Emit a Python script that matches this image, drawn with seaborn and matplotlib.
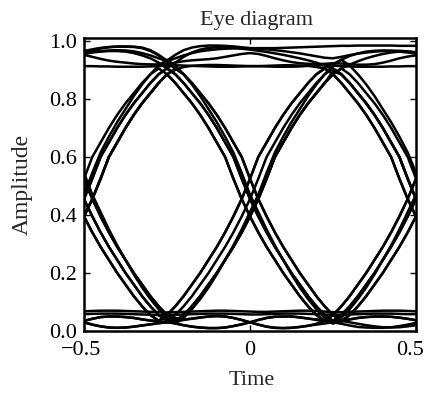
import numpy as np
import pandas as pd
import matplotlib
matplotlib.use("Agg")
import matplotlib.pyplot as plt
import matplotlib.transforms as mtransforms
import seaborn as sns

# ---------------- data ----------------
TIME = [-0.5, -0.475, -0.45, -0.425, -0.4, -0.375, -0.35, -0.325, -0.3, -0.275,
        -0.25, -0.225, -0.2, -0.175, -0.15, -0.125, -0.1, -0.075, -0.05, -0.025,
        0.0, 0.025, 0.05, 0.075, 0.1, 0.125, 0.15, 0.175, 0.2, 0.225,
        0.25, 0.275, 0.3, 0.325, 0.35, 0.375, 0.4, 0.425, 0.45, 0.475, 0.5]

rise_fall_rise = [0.455,0.525,0.60,0.65,0.70,0.745,0.785,0.82,0.855,0.885,
                  0.905,0.885,0.855,0.82,0.785,0.745,0.70,0.65,0.60,0.525,
                  0.455,0.395,0.34,0.29,0.245,0.20,0.16,0.12,0.085,0.055,
                  0.035,0.055,0.085,0.12,0.16,0.20,0.245,0.29,0.34,0.395,
                  0.455]
rise_fall_rise_early = [0.525,0.60,0.65,0.70,0.745,0.785,0.82,0.855,0.885,0.905,
                        0.885,0.855,0.82,0.785,0.745,0.70,0.65,0.60,0.525,0.455,
                        0.395,0.34,0.29,0.245,0.20,0.16,0.12,0.085,0.055,0.035,
                        0.055,0.085,0.12,0.16,0.20,0.245,0.29,0.34,0.395,0.455,
                        0.525]
rise_fall_rise_late = [0.395,0.455,0.525,0.60,0.65,0.70,0.745,0.785,0.82,0.855,
                       0.885,0.905,0.885,0.855,0.82,0.785,0.745,0.70,0.65,0.60,
                       0.525,0.455,0.395,0.34,0.29,0.245,0.20,0.16,0.12,0.085,
                       0.055,0.035,0.055,0.085,0.12,0.16,0.20,0.245,0.29,0.34,
                       0.395]
fall_rise_fall = [0.455,0.395,0.34,0.29,0.245,0.20,0.16,0.12,0.085,0.055,
                  0.035,0.055,0.085,0.12,0.16,0.20,0.245,0.29,0.34,0.395,
                  0.455,0.525,0.60,0.65,0.70,0.745,0.785,0.82,0.855,0.885,
                  0.905,0.885,0.855,0.82,0.785,0.745,0.70,0.65,0.60,0.525,
                  0.455]
fall_rise_fall_early = [0.395,0.34,0.29,0.245,0.20,0.16,0.12,0.085,0.055,0.035,
                        0.055,0.085,0.12,0.16,0.20,0.245,0.29,0.34,0.395,0.455,
                        0.525,0.60,0.65,0.70,0.745,0.785,0.82,0.855,0.885,0.905,
                        0.885,0.855,0.82,0.785,0.745,0.70,0.65,0.60,0.525,0.455,
                        0.395]
fall_rise_fall_late = [0.525,0.455,0.395,0.34,0.29,0.245,0.20,0.16,0.12,0.085,
                       0.055,0.035,0.055,0.085,0.12,0.16,0.20,0.245,0.29,0.34,
                       0.395,0.455,0.525,0.60,0.65,0.70,0.745,0.785,0.82,0.855,
                       0.885,0.905,0.885,0.855,0.82,0.785,0.745,0.70,0.65,0.60,
                       0.525]
rise_high_fall = [0.455,0.525,0.60,0.65,0.70,0.745,0.785,0.82,0.855,0.885,
                  0.905,0.925,0.945,0.96,0.97,0.976,0.978,0.978,0.976,0.973,
                  0.97,0.966,0.962,0.957,0.952,0.946,0.94,0.933,0.925,0.915,
                  0.905,0.885,0.855,0.82,0.785,0.745,0.70,0.65,0.60,0.525,
                  0.455]
rise_high_fall_b = [0.395,0.455,0.525,0.60,0.65,0.70,0.745,0.785,0.82,0.855,
                    0.885,0.90,0.91,0.914,0.916,0.917,0.917,0.916,0.915,0.914,
                    0.913,0.913,0.914,0.915,0.916,0.916,0.915,0.914,0.91,0.905,
                    0.885,0.855,0.82,0.785,0.745,0.70,0.65,0.60,0.525,0.455,
                    0.395]
fall_low_rise = [0.455,0.395,0.34,0.29,0.245,0.20,0.16,0.12,0.085,0.055,
                 0.035,0.026,0.02,0.015,0.012,0.01,0.01,0.012,0.017,0.023,
                 0.03,0.038,0.045,0.049,0.05,0.05,0.047,0.043,0.04,0.037,
                 0.035,0.055,0.085,0.12,0.16,0.20,0.245,0.29,0.34,0.395,
                 0.455]
fall_low_rise_b = [0.525,0.455,0.395,0.34,0.29,0.245,0.20,0.16,0.12,0.085,
                   0.055,0.045,0.04,0.042,0.046,0.05,0.052,0.05,0.045,0.038,
                   0.03,0.022,0.015,0.011,0.01,0.011,0.014,0.018,0.025,0.035,
                   0.055,0.085,0.12,0.16,0.20,0.245,0.29,0.34,0.395,0.455,
                   0.525]
high_fall_low = [0.962,0.968,0.974,0.978,0.98,0.98,0.979,0.975,0.965,0.95,
                 0.925,0.905,0.885,0.855,0.82,0.785,0.745,0.70,0.65,0.60,
                 0.525,0.455,0.395,0.34,0.29,0.245,0.20,0.16,0.12,0.085,
                 0.055,0.035,0.03,0.025,0.02,0.016,0.013,0.012,0.013,0.016,
                 0.02]
low_rise_high = [0.035,0.042,0.048,0.05,0.05,0.048,0.045,0.04,0.036,0.035,
                 0.055,0.085,0.12,0.16,0.20,0.245,0.29,0.34,0.395,0.455,
                 0.525,0.60,0.65,0.70,0.745,0.785,0.82,0.855,0.885,0.905,
                 0.92,0.935,0.948,0.957,0.963,0.966,0.967,0.966,0.963,0.96,
                 0.956]
high_fall_rise = [0.955,0.96,0.963,0.965,0.965,0.963,0.958,0.95,0.94,0.925,
                  0.905,0.885,0.855,0.82,0.785,0.745,0.70,0.65,0.60,0.525,
                  0.455,0.395,0.34,0.29,0.245,0.20,0.16,0.12,0.085,0.055,
                  0.035,0.03,0.055,0.085,0.12,0.16,0.20,0.245,0.29,0.34,
                  0.395]
low_rise_fall = [0.03,0.022,0.016,0.012,0.011,0.012,0.015,0.019,0.023,0.027,
                 0.03,0.035,0.055,0.085,0.12,0.16,0.20,0.245,0.29,0.34,
                 0.395,0.455,0.525,0.60,0.65,0.70,0.745,0.785,0.82,0.855,
                 0.895,0.885,0.855,0.82,0.785,0.745,0.70,0.65,0.60,0.525,
                 0.455]
rise_fall_low = [0.395,0.455,0.525,0.60,0.65,0.70,0.745,0.785,0.82,0.855,
                 0.885,0.855,0.82,0.785,0.745,0.70,0.65,0.60,0.525,0.455,
                 0.395,0.34,0.29,0.245,0.20,0.16,0.12,0.085,0.055,0.035,
                 0.03,0.034,0.04,0.045,0.048,0.05,0.05,0.049,0.046,0.042,
                 0.037]
fall_rise_high = [0.395,0.34,0.29,0.245,0.20,0.16,0.12,0.085,0.055,0.035,
                  0.03,0.033,0.055,0.085,0.12,0.16,0.20,0.245,0.29,0.34,
                  0.395,0.455,0.525,0.60,0.65,0.70,0.745,0.785,0.82,0.855,
                  0.885,0.905,0.918,0.93,0.94,0.948,0.955,0.96,0.963,0.963,
                  0.96]
rise_fall_rise_wide = [0.47,0.545,0.615,0.67,0.72,0.765,0.81,0.85,0.885,0.915,
                       0.935,0.915,0.885,0.85,0.81,0.765,0.72,0.67,0.615,0.545,
                       0.47,0.41,0.35,0.295,0.245,0.195,0.15,0.11,0.075,0.045,
                       0.025,0.045,0.075,0.11,0.15,0.195,0.245,0.295,0.35,0.41,
                       0.47]
fall_rise_fall_wide = [0.545,0.47,0.41,0.35,0.295,0.245,0.195,0.15,0.11,0.075,
                       0.045,0.025,0.045,0.075,0.11,0.15,0.195,0.245,0.295,0.35,
                       0.41,0.47,0.545,0.615,0.67,0.72,0.765,0.81,0.85,0.885,
                       0.915,0.935,0.915,0.885,0.85,0.81,0.765,0.72,0.67,0.615,
                       0.545]
high_flat = [0.913,0.913,0.912,0.912,0.911,0.911,0.911,0.911,0.912,0.913,
             0.915,0.916,0.915,0.914,0.913,0.912,0.911,0.911,0.911,0.912,
             0.913,0.913,0.912,0.911,0.911,0.911,0.912,0.914,0.916,0.916,
             0.915,0.913,0.912,0.911,0.911,0.911,0.911,0.912,0.912,0.913,
             0.913]
high_arch = [0.965,0.971,0.976,0.979,0.981,0.981,0.98,0.977,0.968,0.952,
             0.932,0.952,0.968,0.977,0.982,0.984,0.984,0.983,0.981,0.978,
             0.975,0.973,0.971,0.968,0.965,0.961,0.957,0.952,0.947,0.942,
             0.94,0.945,0.951,0.956,0.96,0.963,0.965,0.966,0.966,0.964,
             0.961]
high_lens = [0.952,0.945,0.938,0.932,0.928,0.925,0.922,0.92,0.919,0.919,
             0.92,0.925,0.93,0.933,0.935,0.937,0.94,0.945,0.95,0.955,
             0.958,0.955,0.948,0.94,0.933,0.927,0.923,0.921,0.92,0.921,
             0.923,0.922,0.92,0.918,0.918,0.92,0.925,0.932,0.94,0.946,
             0.95]
high_top = [0.958,0.962,0.965,0.967,0.968,0.967,0.964,0.958,0.95,0.94,
            0.93,0.94,0.95,0.958,0.964,0.968,0.971,0.973,0.974,0.975,
            0.975,0.975,0.975,0.975,0.976,0.977,0.978,0.979,0.98,0.981,
            0.982,0.983,0.983,0.984,0.984,0.984,0.984,0.984,0.983,0.983,
            0.983]
low_flat = [0.068,0.069,0.07,0.07,0.07,0.069,0.068,0.067,0.066,0.065,
            0.064,0.065,0.066,0.067,0.068,0.069,0.07,0.07,0.069,0.068,
            0.067,0.066,0.066,0.067,0.068,0.069,0.07,0.07,0.069,0.067,
            0.065,0.065,0.066,0.067,0.068,0.069,0.07,0.07,0.07,0.069,
            0.068]
low_flat_b = [0.058,0.059,0.06,0.06,0.06,0.059,0.058,0.057,0.056,0.055,
              0.055,0.056,0.057,0.058,0.059,0.06,0.06,0.06,0.059,0.058,
              0.057,0.057,0.058,0.059,0.06,0.06,0.06,0.059,0.058,0.057,
              0.056,0.056,0.057,0.058,0.059,0.06,0.06,0.06,0.059,0.058,
              0.058]
low_lens_a = [0.035,0.042,0.048,0.05,0.05,0.048,0.045,0.04,0.036,0.032,
              0.03,0.033,0.038,0.043,0.047,0.05,0.051,0.05,0.045,0.038,
              0.03,0.022,0.015,0.011,0.01,0.011,0.014,0.018,0.022,0.026,
              0.03,0.034,0.04,0.045,0.048,0.05,0.05,0.049,0.046,0.042,
              0.037]
low_lens_b = [0.03,0.022,0.016,0.012,0.011,0.012,0.015,0.019,0.023,0.027,
              0.03,0.026,0.02,0.015,0.012,0.01,0.01,0.012,0.017,0.023,
              0.03,0.038,0.045,0.049,0.05,0.05,0.047,0.043,0.038,0.034,
              0.03,0.025,0.019,0.014,0.012,0.011,0.011,0.013,0.017,0.022,
              0.028]

TRACES = {
    "rise_fall_rise": rise_fall_rise,
    "rise_fall_rise_early": rise_fall_rise_early,
    "rise_fall_rise_late": rise_fall_rise_late,
    "fall_rise_fall": fall_rise_fall,
    "fall_rise_fall_early": fall_rise_fall_early,
    "fall_rise_fall_late": fall_rise_fall_late,
    "rise_high_fall": rise_high_fall,
    "rise_high_fall_b": rise_high_fall_b,
    "fall_low_rise": fall_low_rise,
    "fall_low_rise_b": fall_low_rise_b,
    "high_fall_low": high_fall_low,
    "low_rise_high": low_rise_high,
    "high_fall_rise": high_fall_rise,
    "low_rise_fall": low_rise_fall,
    "rise_fall_low": rise_fall_low,
    "fall_rise_high": fall_rise_high,
    "rise_fall_rise_wide": rise_fall_rise_wide,
    "fall_rise_fall_wide": fall_rise_fall_wide,
    "high_flat": high_flat,
    "high_arch": high_arch,
    "high_lens": high_lens,
    "high_top": high_top,
    "low_flat": low_flat,
    "low_flat_b": low_flat_b,
    "low_lens_a": low_lens_a,
    "low_lens_b": low_lens_b,
}

X_TICKS = [-0.5, 0.0, 0.5]
X_TICK_LABELS = ["\u22120.5", "0", "0.5"]
Y_TICKS = [0.0, 0.2, 0.4, 0.6, 0.8, 1.0]
Y_TICK_LABELS = ["0.0", "0.2", "0.4", "0.6", "0.8", "1.0"]

rows = []
for name, vals in TRACES.items():
    for t, a in zip(TIME, vals):
        rows.append((name, t, a))
df = pd.DataFrame(rows, columns=["trace", "time", "amplitude"])

# ---------------- figure ----------------
sns.set_style("ticks")
plt.rcParams["font.family"] = ["Liberation Serif", "DejaVu Serif"]
plt.rcParams["axes.unicode_minus"] = True

W, H = 428, 395
fig = plt.figure(figsize=(W / 100, H / 100), dpi=100)
ax = fig.add_axes([84 / W, 1 - 331 / H, 332 / W, 293 / H])

sns.lineplot(data=df, x="time", y="amplitude", units="trace", estimator=None,
             sort=False, color="black", linewidth=1.8, legend=False, ax=ax)

ax.set_xlim(-0.5, 0.5)
ax.set_ylim(0.0, 1.01)
ax.set_xticks(X_TICKS)
ax.set_xticklabels(X_TICK_LABELS)
ax.set_yticks(Y_TICKS)
ax.set_yticklabels(Y_TICK_LABELS)
ax.tick_params(axis="both", direction="in", length=4, width=1.0,
               colors="black", labelsize=16)
ax.tick_params(axis="y", right=True, pad=5)
ax.tick_params(axis="x", top=True, pad=7)
for sp in ax.spines.values():
    sp.set_visible(True)
    sp.set_linewidth(1.8)
    sp.set_color("black")

# nudge outer x tick labels so they stay inside the canvas like the reference
xlabels = ax.get_xticklabels()
xlabels[-1].set_transform(xlabels[-1].get_transform() +
                          mtransforms.ScaledTranslation(-6 / 100, 0, fig.dpi_scale_trans))
xlabels[0].set_transform(xlabels[0].get_transform() +
                         mtransforms.ScaledTranslation(-3 / 100, 0, fig.dpi_scale_trans))

ax.set_xlabel("Time", fontsize=16)
ax.set_ylabel("Amplitude", fontsize=17)
ax.xaxis.set_label_coords(0.506, -0.135)
ax.yaxis.set_label_coords(-0.155, 0.5)

fig.text(257 / W, 1 - 25 / H, "Eye diagram", ha="center", va="baseline",
         fontsize=16)

fig.savefig("out.png", dpi=100)
